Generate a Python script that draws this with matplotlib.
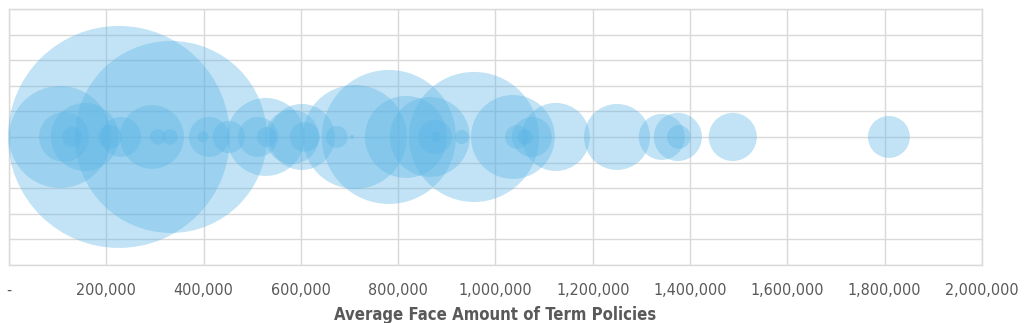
import matplotlib
matplotlib.use('Agg')
import matplotlib.pyplot as plt
import numpy as np

# average face amount per bubble, and bubble size (policy count, arbitrary units)
face_amount = [226000, 333000, 105000, 113000, 156000, 129500, 207600, 230200,
               294000, 306000, 331000, 411000, 398800, 452000, 528000, 512000,
               530000, 602000, 582000, 608000, 674000, 705000, 711000, 781000,
               816000, 865000, 876000, 878000, 931000, 956000, 1036000, 1044000,
               1061000, 1075000, 1124000, 1250000, 1342000, 1375000, 1377000,
               1488000, 1809000]
bubble_size = [1232, 922, 260, 62, 116, 10, 14, 40,
               102, 6, 6, 40, 3, 26, 152, 40,
               10, 109, 73, 22, 12, 0.5, 270, 449,
               168, 160, 29, 2.5, 5, 423, 176, 14,
               6, 40, 116, 109, 53, 58, 14,
               58, 44]
y_value = [0] * len(face_amount)

xticks = list(range(0, 2000001, 200000))
xtick_labels = ['-'] + ['{:,}'.format(v) for v in xticks[1:]]

fig = plt.figure(figsize=(10.24, 3.23), dpi=100)
ax = fig.add_axes([0.0088, 0.180, 0.950, 0.792])

sizes = np.array(bubble_size, dtype=float)
# largest bubble is ~111 px radius -> points^2 for scatter
s_max = (2 * 111 * 0.72) ** 2
s = sizes / sizes.max() * s_max
order = np.argsort(-sizes)
ax.scatter(np.array(face_amount)[order], np.array(y_value)[order], s=s[order],
           color='#5BB5E6', alpha=0.37, edgecolors='none', zorder=3, clip_on=False)

ax.set_xlim(0, 2000000)
ax.set_ylim(-5, 5)
ax.set_xticks(xticks)
ax.set_xticklabels(xtick_labels)
ax.set_yticks(range(-5, 6))
ax.set_yticklabels([])
ax.grid(True, color='#D9D9D9', linewidth=1.0, zorder=0)
for sp in ax.spines.values():
    sp.set_color('#D9D9D9')
    sp.set_linewidth(1.0)
ax.tick_params(length=0, pad=13, labelsize=11.5, labelcolor='#595959')
for lab in ax.get_xticklabels():
    lab.set_family('DejaVu Sans')
    lab.set_stretch('condensed')
ax.set_xlabel('Average Face Amount of Term Policies', fontsize=12, fontweight='bold',
              color='#595959', family='DejaVu Sans', fontstretch='condensed',
              labelpad=6)

fig.savefig('out.png', dpi=100)
